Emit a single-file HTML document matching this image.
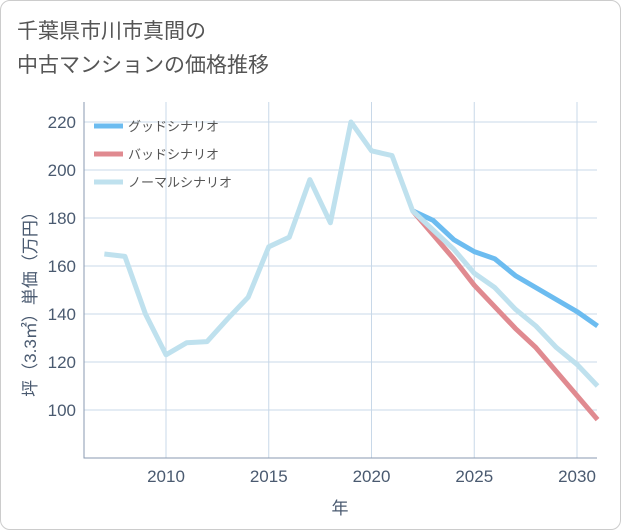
<!DOCTYPE html>
<html><head><meta charset="utf-8"><style>
body{margin:0;background:#fff;}
#wrap{position:relative;width:619px;height:528px;border:1px solid #ccc;border-radius:10px;background:#fff;overflow:hidden;font-family:"Liberation Sans","Noto Sans CJK JP",sans-serif;}
#title{position:absolute;left:16px;top:14px;font-size:21px;line-height:34px;color:#555;}
svg text{font-family:"Liberation Sans","Noto Sans CJK JP",sans-serif;}
</style></head><body>
<div id="wrap">
<div id="title">千葉県市川市真間の<br>中古マンションの価格推移</div>
<svg id="chart" width="621" height="530" style="position:absolute;left:-1px;top:-1px"></svg>
</div>
<script>
const years=[2007,2008,2009,2010,2011,2012,2013,2014,2015,2016,2017,2018,2019,2020,2021,2022,2023,2024,2025,2026,2027,2028,2029,2030,2031];
const normal=[165,164,140,123,128,128.5,138,147,168,172,196,178,220,208,206,183,175,167,157,151,142,135,126,119,110];
const futureYears=[2022,2023,2024,2025,2026,2027,2028,2029,2030,2031];
const good=[183,179,171,166,163,156,151,146,141,135];
const bad=[183,173,163,152,143,134,126,116,106,96];
const yTicks=[100,120,140,160,180,200,220];
const xTicks=[2010,2015,2020,2025,2030];
const L=84,R=597,T=102,B=458;
const x=v=>166+(v-2010)*20.55;
const y=v=>410-(v-100)*2.4;
const svg=document.getElementById('chart');
const NS='http://www.w3.org/2000/svg';
function mk(t,a){const e=document.createElementNS(NS,t);for(const k in a)e.setAttribute(k,a[k]);svg.appendChild(e);return e;}
yTicks.forEach(v=>{const g=mk('line',{x1:L,x2:R,y1:y(v),y2:y(v),stroke:'#c8d8e8','stroke-width':1});


const t=mk('text',{x:L-8,y:y(v)+6,'text-anchor':'end','font-size':17,fill:'#4a5a70'});t.textContent=v;

});
xTicks.forEach(v=>{const g=mk('line',{x1:x(v),x2:x(v),y1:T,y2:B,stroke:'#c8d8e8','stroke-width':1});


const t=mk('text',{x:x(v),y:B+24,'text-anchor':'middle','font-size':17,fill:'#4a5a70'});t.textContent=v;

});
const ax=mk('path',{d:`M${L},${T}V${B}H${R}`,fill:'none',stroke:'#8a9ab0','stroke-width':1});


function line(xs,vs,c,n){const p=mk('polyline',{points:xs.map((yr,i)=>x(yr)+','+y(vs[i])).join(' '),fill:'none',stroke:c,'stroke-width':5,'stroke-linejoin':'round'});

}
line(futureYears,good,'#6cbcf0','good-scenario-line');
line(futureYears,bad,'#e08a90','bad-scenario-line');
line(years,normal,'#bfe1ee','normal-scenario-line');
[['グッドシナリオ','#6cbcf0',126],['バッドシナリオ','#e08a90',154],['ノーマルシナリオ','#bfe1ee',182]].forEach(([n,c,yy])=>{
const s=mk('line',{x1:94,x2:123,y1:yy,y2:yy,stroke:c,'stroke-width':5});


const t=mk('text',{x:128,y:yy+5,'font-size':13,fill:'#555'});t.textContent=n;

});
const xt=mk('text',{x:340,y:514,'text-anchor':'middle','font-size':17,fill:'#4a5a70'});xt.textContent='年';


const yt=mk('text',{x:0,y:0,'text-anchor':'middle','font-size':17,fill:'#4a5a70',transform:'translate(36,300) rotate(-90)'});yt.textContent='坪（3.3㎡）単価（万円）';


</script>
</body></html>
